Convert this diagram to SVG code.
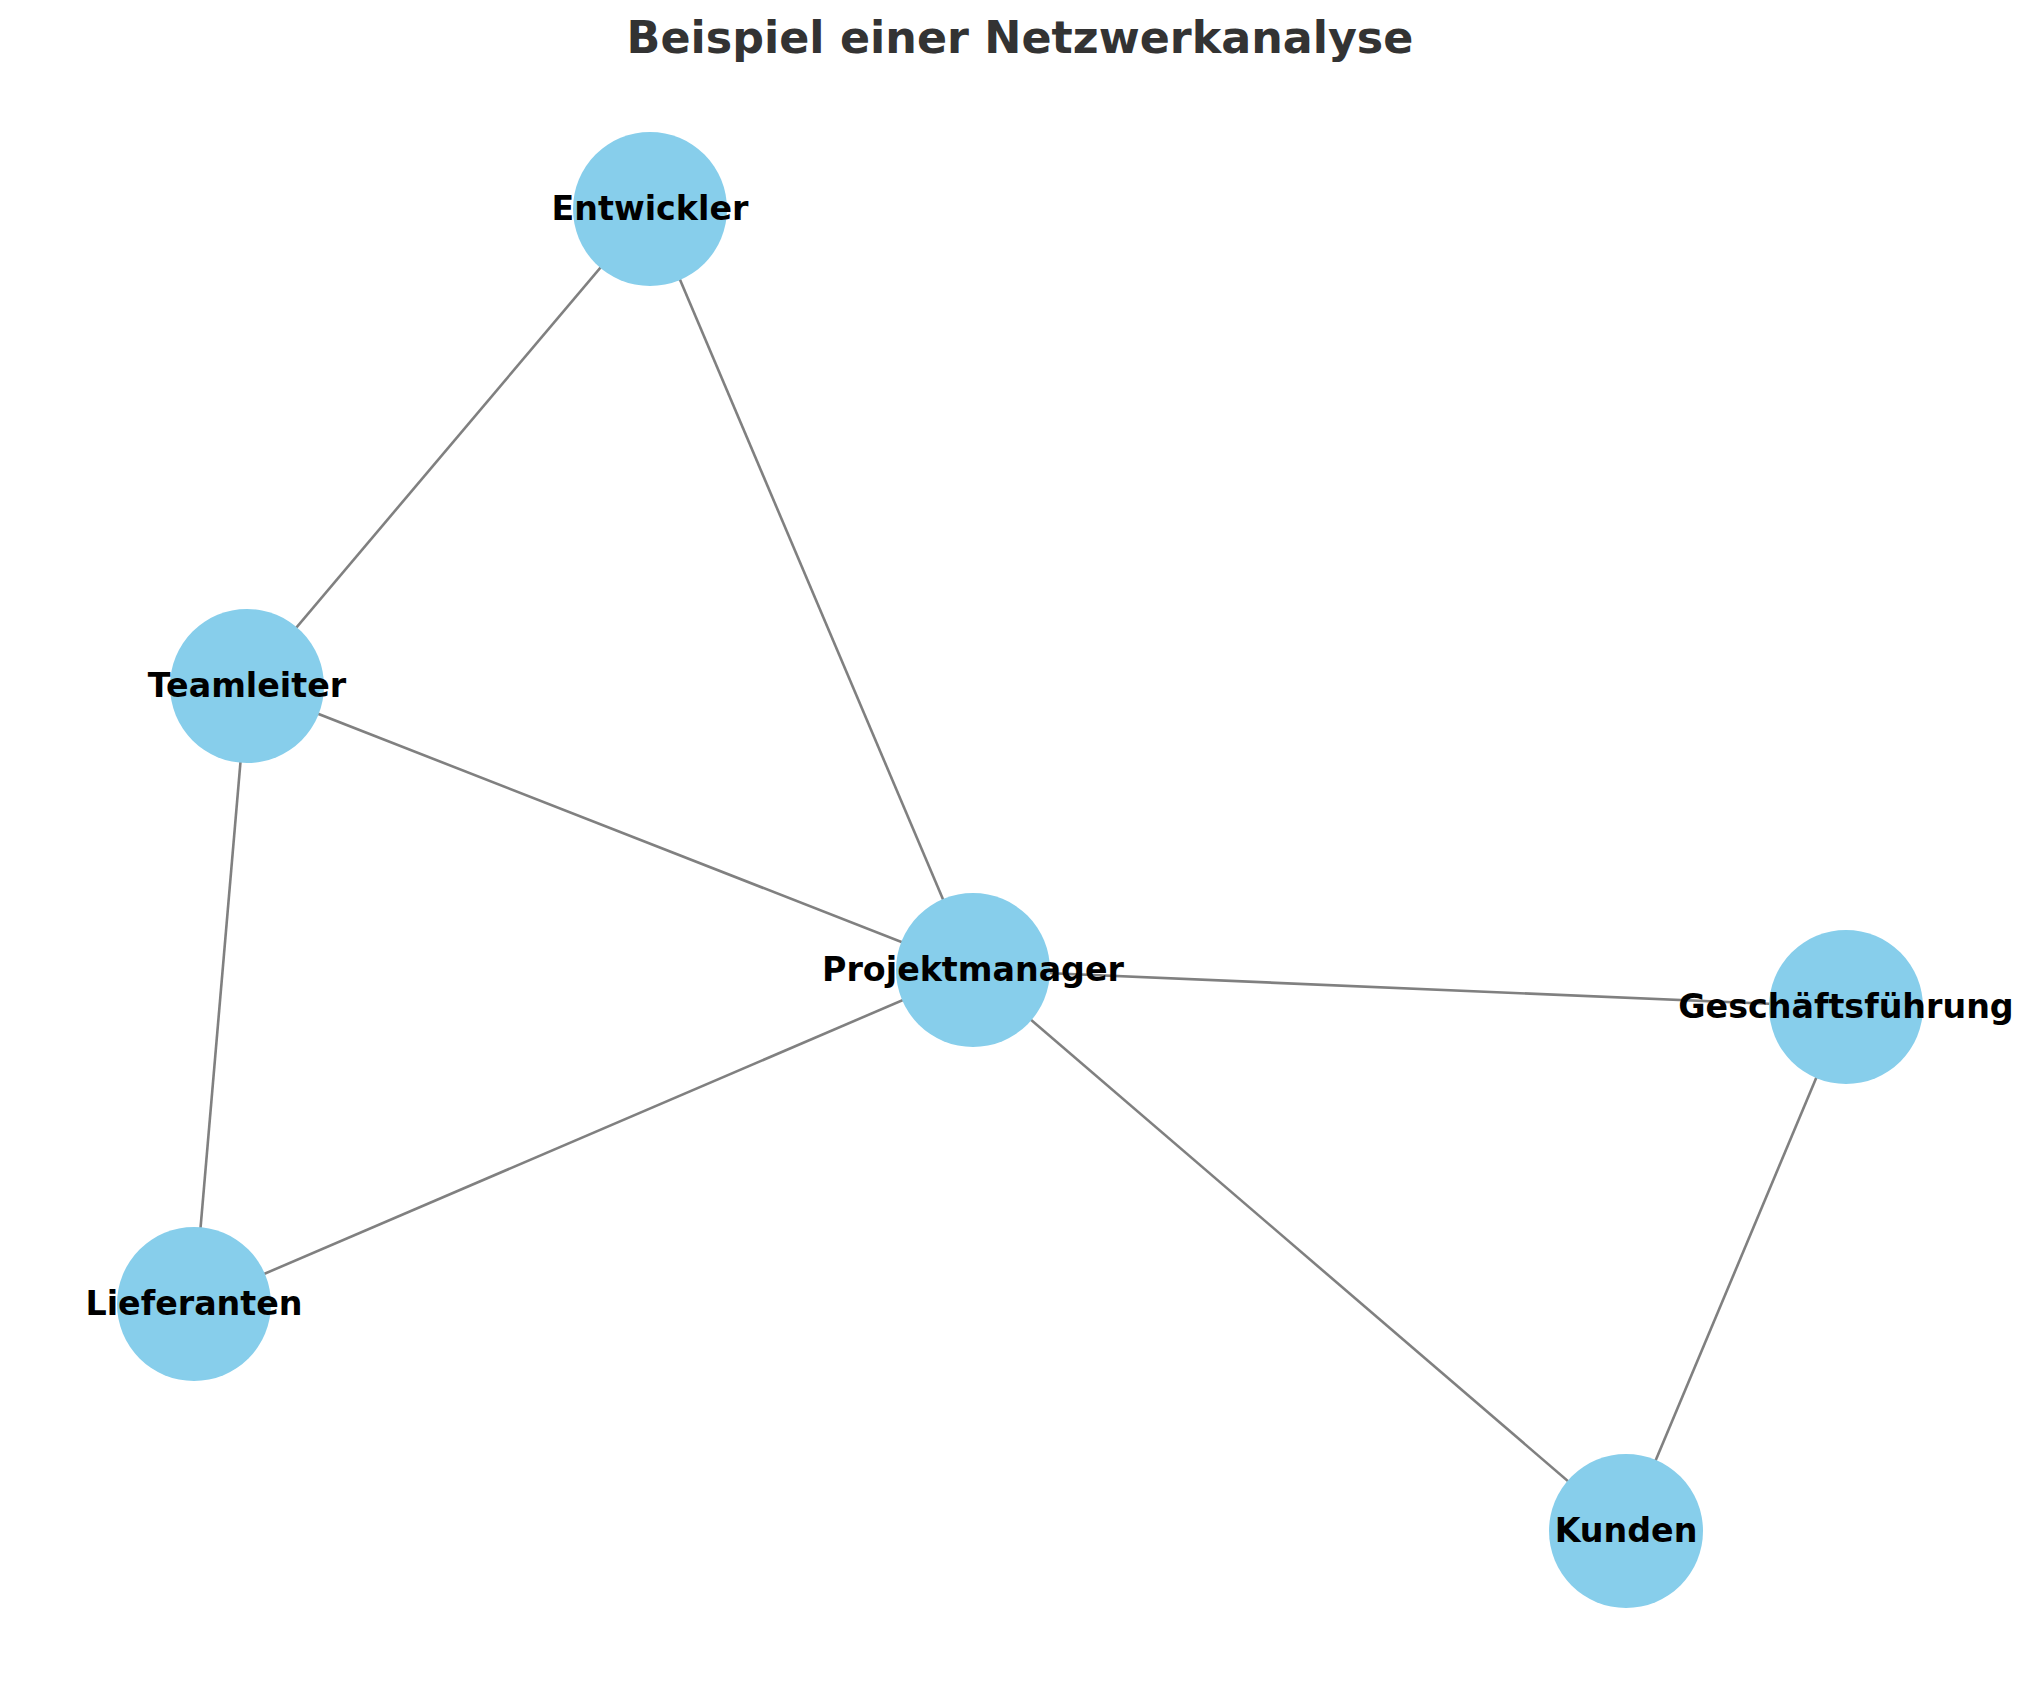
<svg xmlns="http://www.w3.org/2000/svg" width="2039" height="1690" viewBox="0 0 2039 1690">
<style>
.edge{stroke:#808080;stroke-width:2.6;fill:none}
.node circle{fill:#87CEEB}
.node text{font-family:"DejaVu Sans",sans-serif;font-weight:bold;font-size:33.3px;fill:#000;text-anchor:middle}
.title{font-family:"DejaVu Sans",sans-serif;font-weight:bold;font-size:44.4px;fill:#333;text-anchor:middle}
</style>
<rect width="2039" height="1690" fill="#fff"/>
<text class="title" x="1020" y="53">Beispiel einer Netzwerkanalyse</text>
<g id="edges">
<line class="edge" x1="650" y1="209" x2="247" y2="686"/>
<line class="edge" x1="650" y1="209" x2="973" y2="970"/>
<line class="edge" x1="247" y1="686" x2="973" y2="970"/>
<line class="edge" x1="247" y1="686" x2="194" y2="1304"/>
<line class="edge" x1="973" y1="970" x2="194" y2="1304"/>
<line class="edge" x1="973" y1="970" x2="1846" y2="1007"/>
<line class="edge" x1="973" y1="970" x2="1626" y2="1531"/>
<line class="edge" x1="1846" y1="1007" x2="1626" y2="1531"/>
</g>
<g id="node-entwickler" class="node"><circle cx="650" cy="209" r="77"/><text x="650" y="220">Entwickler</text></g>
<g id="node-teamleiter" class="node"><circle cx="247" cy="686" r="77"/><text x="247" y="697">Teamleiter</text></g>
<g id="node-projektmanager" class="node"><circle cx="973" cy="970" r="77"/><text x="973" y="981">Projektmanager</text></g>
<g id="node-geschaeftsfuehrung" class="node"><circle cx="1846" cy="1007" r="77"/><text x="1846" y="1018">Geschäftsführung</text></g>
<g id="node-lieferanten" class="node"><circle cx="194" cy="1304" r="77"/><text x="194" y="1315">Lieferanten</text></g>
<g id="node-kunden" class="node"><circle cx="1626" cy="1531" r="77"/><text x="1626" y="1542">Kunden</text></g>
</svg>
